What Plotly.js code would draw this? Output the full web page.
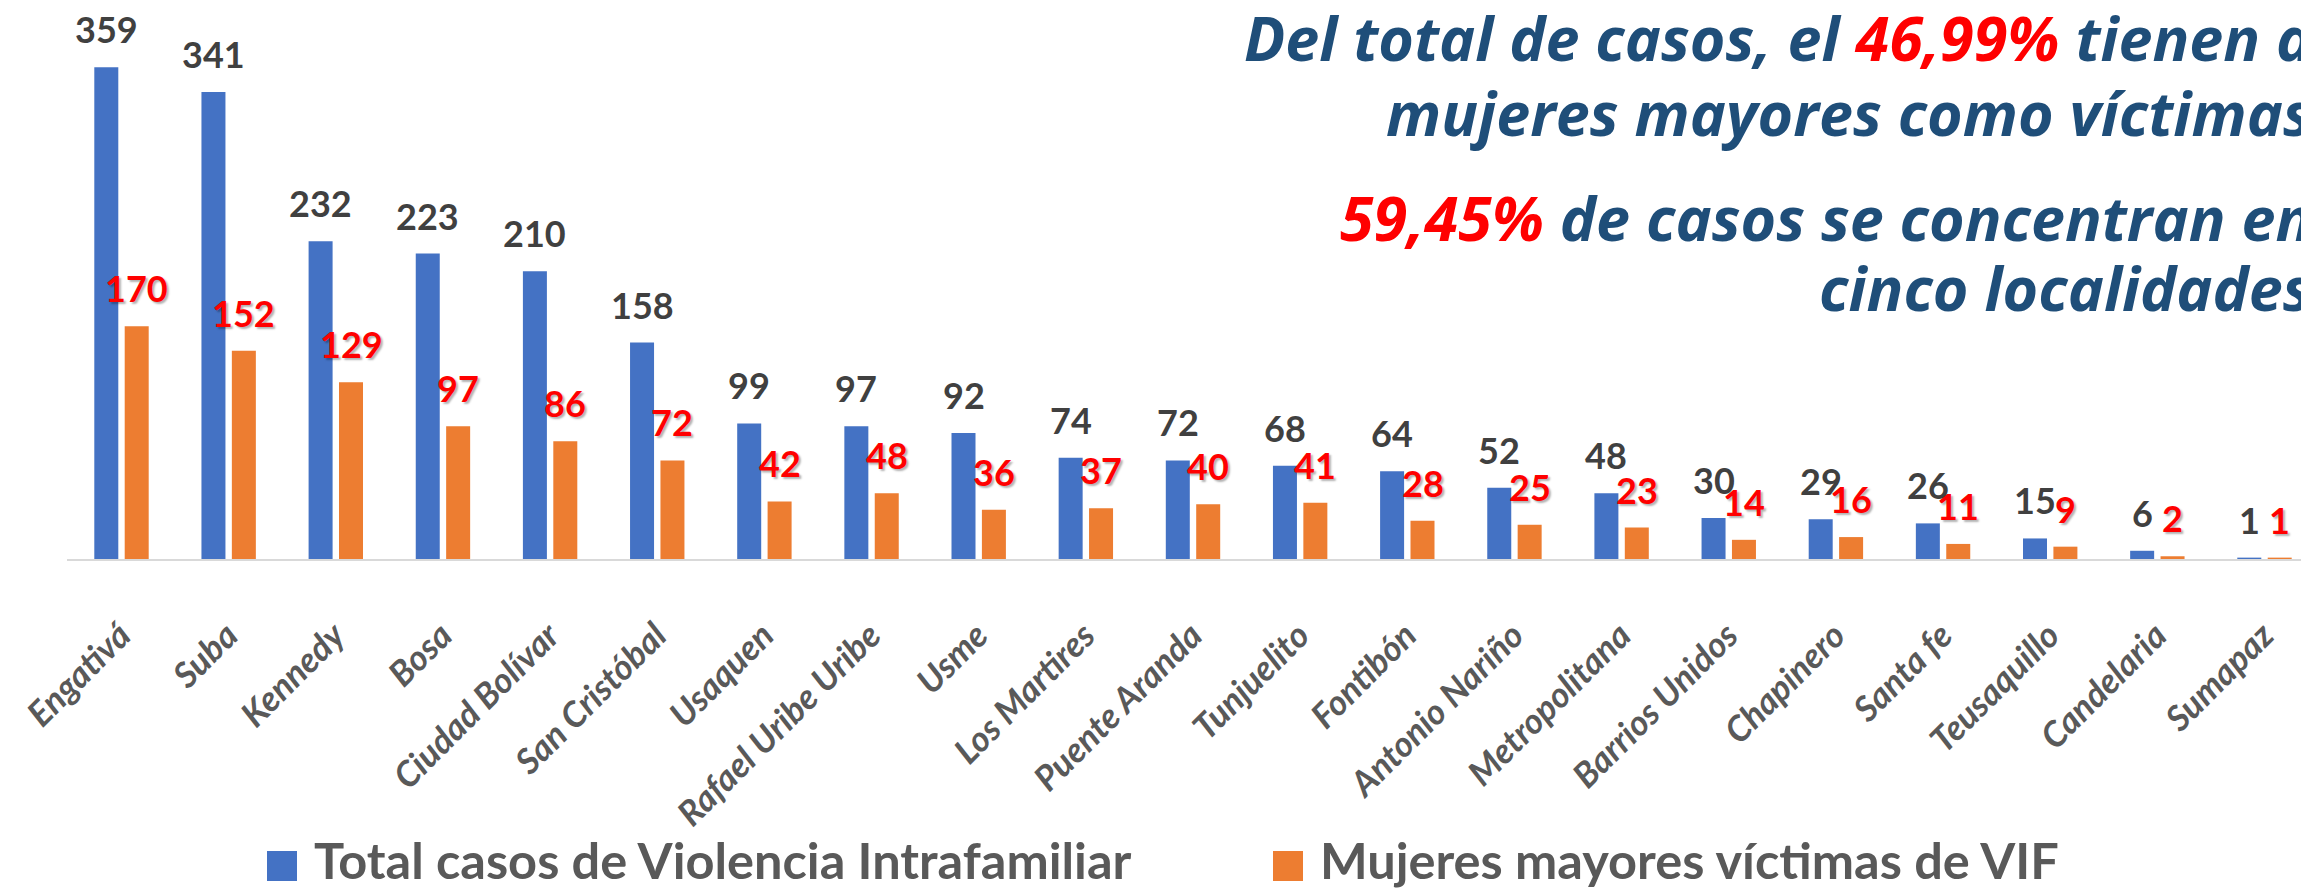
<!DOCTYPE html>
<html>
<head>
<meta charset="utf-8">
<script src="https://cdn.plot.ly/plotly-3.0.1.min.js"></script>
<style>
html,body{margin:0;padding:0;background:#fff;overflow:hidden;}
#chart{width:2301px;height:888px;}
</style>
</head>
<body>
<div id="chart"></div>
<script>
// ---- data ----
const categories = ['Engativá','Suba','Kennedy','Bosa','Ciudad Bolívar','San Cristóbal','Usaquen','Rafael Uribe Uribe','Usme','Los Martires','Puente Aranda','Tunjuelito','Fontibón','Antonio Nariño','Metropolitana','Barrios Unidos','Chapinero','Santa fe','Teusaquillo','Candelaria','Sumapaz'];
const totalCasos = [359,341,232,223,210,158,99,97,92,74,72,68,64,52,48,30,29,26,15,6,1];
const mujeresMayores = [170,152,129,97,86,72,42,48,36,37,40,41,28,25,23,14,16,11,9,2,1];
const seriesNames = ['Total casos de Violencia Intrafamiliar','Mujeres mayores víctimas de VIF'];
const headlineLines = [
  'Del total de casos, el <span style="color:#FF0000">46,99%</span> tienen a',
  'mujeres mayores como víctimas',
  '<span style="color:#FF0000">59,45%</span> de casos se concentran en',
  'cinco localidades'
];

// ---- layout geometry ----
const W = 2301, H = 888;
const L = 67, R = 0, T = 11, B = 329;
const PW = W - L - R, PH = H - T - B;
const catW = 107.15;
const xMax = -0.5 + PW / catW;
const yMax = PH / 1.3697;
const px2x = px => (px - L) / PW;
const px2y = py => (T + PH - py) / PH;

const FONT = 'Lato, "Open Sans", sans-serif';
const HFONT = '"Open Sans", Lato, sans-serif';
const BLUE = '#4472C4', ORANGE = '#ED7D31';

const barW = 24 / catW;
const traces = [
  {type:'bar', x:categories, y:totalCasos, name:seriesNames[0], marker:{color:BLUE},
   width:barW, offset:(94.3 - (L + catW/2)) / catW, hoverinfo:'x+y'},
  {type:'bar', x:categories, y:mujeresMayores, name:seriesNames[1], marker:{color:ORANGE},
   width:barW, offset:(124.7 - (L + catW/2)) / catW, hoverinfo:'x+y'}
];

const annotations = [];
const blueShift = (94.3 + 12) - (L + catW/2);
const orangeShift = (124.7 + 12) - (L + catW/2);
categories.forEach((c, i) => {
  annotations.push({x:c, y:totalCasos[i], xref:'x', yref:'y', text:String(totalCasos[i]),
    showarrow:false, xanchor:'center', yanchor:'bottom', xshift:blueShift, yshift:14,
    font:{family:FONT, size:36, color:'#404040', weight:700}});
  annotations.push({x:c, y:mujeresMayores[i], xref:'x', yref:'y', text:String(mujeresMayores[i]),
    showarrow:false, xanchor:'center', yanchor:'bottom', xshift:orangeShift, yshift:14,
    font:{family:FONT, size:36, color:'#FF0000', weight:700, shadow:'2px 2px 2px rgba(0,0,0,0.3)'}});
});

// headline text
const headBaselines = [62, 137, 242, 312];
const HFS = 61;
headlineLines.forEach((t, i) => {
  annotations.push({xref:'paper', yref:'paper', x:px2x(2314), y:px2y(headBaselines[i] + 0.293*HFS + 1),
    xanchor:'right', yanchor:'bottom', align:'right', showarrow:false, text:t,
    font:{family:HFONT, size:HFS, color:'#1F4E79', weight:700, style:'italic'}});
});

// legend (custom)
const shapes = [];
const legendItems = [
  {sq:267, tx:312, color:BLUE, name:seriesNames[0]},
  {sq:1273, tx:1318, color:ORANGE, name:seriesNames[1]}
];
const LFS = 50.5;
legendItems.forEach(it => {
  shapes.push({type:'rect', xref:'paper', yref:'paper', x0:px2x(it.sq), x1:px2x(it.sq+30),
    y0:px2y(881), y1:px2y(851), fillcolor:it.color, line:{width:0}});
  annotations.push({xref:'paper', yref:'paper', x:px2x(it.tx), y:px2y(880 + 0.213*LFS + 1),
    xanchor:'left', yanchor:'bottom', showarrow:false, text:it.name,
    font:{family:FONT, size:LFS, color:'#595959', weight:700}});
});

const layout = {
  width:W, height:H,
  margin:{l:L, r:R, t:T, b:B, pad:0},
  paper_bgcolor:'#fff', plot_bgcolor:'#fff',
  barmode:'overlay',
  showlegend:false,
  xaxis:{type:'category', range:[-0.5, xMax], showline:true, linecolor:'#D9D9D9', linewidth:2,
    showgrid:false, zeroline:false, ticks:'', tickangle:-45, ticklabelstandoff:40,
    tickfont:{family:FONT, size:35, color:'#595959', weight:700, style:'italic'}},
  yaxis:{range:[0, yMax], visible:false, showgrid:false, zeroline:false},
  annotations:annotations,
  shapes:shapes
};

Plotly.newPlot('chart', traces, layout, {displayModeBar:false, staticPlot:true});
</script>
</body>
</html>
